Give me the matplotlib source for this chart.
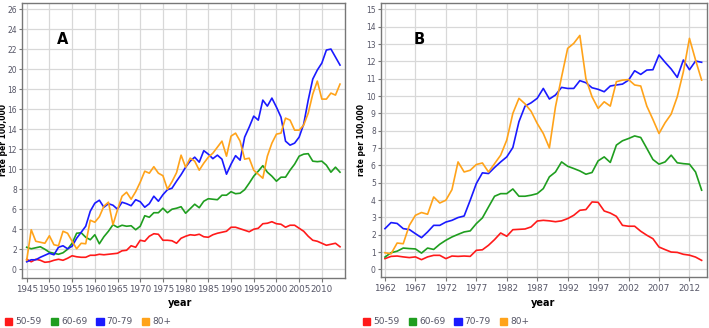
import numpy as np
import matplotlib
matplotlib.use('Agg')
import matplotlib.pyplot as plt
from matplotlib.patches import Patch

# panel A: 1945-2014
years_a = list(range(1945, 2015))
a_50 = [1.0, 0.75, 1.0, 0.9, 0.7, 0.75, 0.9, 1.0, 0.9, 1.1,
        1.35, 1.25, 1.2, 1.2, 1.4, 1.4, 1.5, 1.45, 1.5, 1.55,
        1.6, 1.85, 1.9, 2.35, 2.2, 2.9, 2.8, 3.3, 3.55, 3.5,
        2.9, 2.9, 2.85, 2.6, 3.1, 3.3, 3.45, 3.4, 3.5, 3.25,
        3.2, 3.45, 3.6, 3.7, 3.8, 4.2, 4.2, 4.05, 3.9, 3.75,
        4.0, 4.1, 4.55, 4.6, 4.75, 4.55, 4.5, 4.2, 4.4, 4.4,
        4.1, 3.8, 3.3, 2.9, 2.8, 2.6, 2.4, 2.5, 2.6, 2.25]
a_60 = [2.2, 2.05, 2.15, 2.25, 2.0, 1.7, 1.6, 1.5, 1.65, 2.0,
        2.6, 3.6, 3.65, 3.2, 2.95, 3.45, 2.55, 3.25, 3.8, 4.45,
        4.2, 4.4, 4.3, 4.35, 3.95, 4.3, 5.35, 5.2, 5.65, 5.65,
        6.1, 5.65, 6.0, 6.1, 6.25, 5.6, 6.05, 6.5, 6.15, 6.8,
        7.05, 7.0, 6.95, 7.4, 7.4, 7.75, 7.55, 7.6, 7.95, 8.6,
        9.3, 9.8, 10.35, 9.7, 9.3, 8.8, 9.2, 9.2, 9.9, 10.5,
        11.3, 11.5, 11.55, 10.8, 10.75, 10.8, 10.4, 9.7, 10.2, 9.7]
a_70 = [0.75, 0.95, 0.95, 1.2, 1.4, 1.6, 1.45, 2.2, 2.35, 2.05,
        2.3, 3.1, 3.7, 4.3, 5.8, 6.6, 6.9, 6.2, 6.55, 6.4,
        6.0, 6.7, 6.55, 6.35, 6.95, 6.75, 6.2, 6.55, 7.3, 6.8,
        7.45, 7.95, 8.1, 8.8, 9.45, 10.2, 10.8, 11.2, 10.7, 11.85,
        11.5, 11.05, 11.4, 11.0, 9.5, 10.5, 11.35, 10.9, 13.2, 14.2,
        15.3, 14.9, 16.9, 16.3, 17.1, 16.2, 15.2, 12.8, 12.4, 12.6,
        13.2, 14.5, 16.9, 19.0, 19.9, 20.6, 21.9, 22.0, 21.2, 20.4]
a_80 = [0.9, 3.95, 2.8, 2.7, 2.6, 3.35, 2.45, 2.35, 3.8, 3.6,
        2.8, 2.05, 2.6, 2.55, 4.9, 4.7, 5.25, 6.3, 6.7, 4.45,
        5.95, 7.3, 7.7, 7.0, 7.75, 8.7, 9.8, 9.6, 10.25, 9.6,
        9.35, 8.0, 8.75, 9.65, 11.4, 10.2, 11.1, 10.8, 9.9, 10.6,
        11.2, 11.6, 12.2, 12.8, 11.3, 13.3, 13.6, 12.8, 11.0, 11.1,
        9.9, 9.5, 9.1, 11.3, 12.6, 13.5, 13.6, 15.1, 14.9, 13.9,
        13.9, 14.4, 15.6, 17.5, 18.8, 17.0, 17.0, 17.6, 17.4, 18.5]

# panel B: 1962-2014
years_b = list(range(1962, 2015))
b_50 = [0.62, 0.75, 0.77, 0.72, 0.68, 0.72, 0.56, 0.72, 0.81, 0.81,
        0.62, 0.77, 0.75, 0.77, 0.75, 1.1, 1.13, 1.39, 1.72, 2.1,
        1.91, 2.29, 2.31, 2.33, 2.45, 2.79, 2.83, 2.8, 2.75, 2.8,
        2.93, 3.12, 3.41, 3.45, 3.89, 3.87, 3.37, 3.25, 3.06, 2.54,
        2.49, 2.49, 2.2, 1.97, 1.77, 1.29, 1.14, 1.0, 0.98, 0.87,
        0.82, 0.71, 0.52]
b_60 = [0.71, 0.96, 1.05, 1.23, 1.2, 1.18, 0.94, 1.23, 1.15, 1.45,
        1.68, 1.87, 2.02, 2.16, 2.22, 2.64, 2.97, 3.6, 4.22, 4.37,
        4.37, 4.64, 4.22, 4.22, 4.28, 4.37, 4.66, 5.34, 5.62, 6.2,
        5.95, 5.82, 5.68, 5.49, 5.59, 6.26, 6.49, 6.17, 7.17, 7.42,
        7.55, 7.7, 7.61, 6.98, 6.34, 6.07, 6.2, 6.59, 6.15, 6.1,
        6.07, 5.62, 4.57]
b_70 = [2.35, 2.7, 2.65, 2.35, 2.3, 2.06, 1.83, 2.16, 2.54, 2.54,
        2.73, 2.83, 2.99, 3.08, 3.99, 4.95, 5.57, 5.53, 5.88, 6.2,
        6.49, 7.03, 8.52, 9.42, 9.61, 9.87, 10.44, 9.83, 10.06, 10.5,
        10.44, 10.44, 10.89, 10.77, 10.48, 10.39, 10.25, 10.58, 10.64, 10.69,
        10.92, 11.46, 11.25, 11.5, 11.52, 12.37, 11.95, 11.56, 11.08, 12.08,
        11.52, 12.02, 11.95]
b_80 = [0.96, 0.9, 1.52, 1.48, 2.54, 3.12, 3.28, 3.18, 4.18, 3.83,
        3.99, 4.6, 6.2, 5.62, 5.72, 6.05, 6.14, 5.62, 6.1, 6.59,
        7.46, 9.0, 9.87, 9.55, 9.12, 8.42, 7.84, 7.01, 9.38, 11.1,
        12.75, 13.04, 13.5, 11.0, 9.96, 9.29, 9.67, 9.42, 10.83, 10.92,
        10.95, 10.64, 10.58, 9.42, 8.65, 7.84, 8.46, 8.96, 9.96, 11.4,
        13.33, 12.08, 10.92]

labels = ['50-59', '60-69', '70-79', '80+']
colors = ['#ff1a1a', '#1f9e1f', '#1a1aff', '#ffa31a']

narrow = ['Liberation Sans Narrow', 'DejaVu Sans']

W, H = 709, 328
fig = plt.figure(figsize=(W / 100, H / 100), dpi=100)


def box(l, t, r, b):
    return [l / W, (H - b) / H, (r - l) / W, (b - t) / H]


def panel(rect, years, series, xlim, ylim, xticks, yticks, letter, lx, ly, ylab_x, xlab_x, leg_x):
    ax = fig.add_axes(rect)
    for s, c in zip(series, colors):
        ax.plot(years, s, color=c, lw=1.2)
    ax.set_xlim(*xlim)
    ax.set_ylim(*ylim)
    ax.set_xticks(xticks)
    ax.set_yticks(yticks)
    ax.grid(True, color='#d8d8d8', lw=0.9)
    ax.set_axisbelow(True)
    for sp in ax.spines.values():
        sp.set_color('#777777')
        sp.set_linewidth(1.0)
    ax.tick_params(axis='x', length=3, width=0.8, color='#777777', labelsize=6.3,
                   labelcolor='#555566', pad=2)
    ax.tick_params(axis='y', length=2.5, width=0.8, color='#777777', labelsize=5.5,
                   labelcolor='#555566', pad=1.0)
    for t in ax.get_xticklabels() + ax.get_yticklabels():
        t.set_family(narrow)
    fig.text(lx / W, 1 - ly / H, letter, fontsize=10.5, fontweight='bold',
             ha='center', va='center')
    fig.text(ylab_x / W, 1 - 140 / H, 'rate per 100,000', rotation=90,
             fontsize=5.5, fontweight='bold', ha='center', va='center')
    fig.text(xlab_x / W, 1 - 303 / H, 'year', fontsize=7, fontweight='bold',
             ha='center', va='center')
    handles = [Patch(color=c) for c in colors]
    leg = fig.legend(handles, labels, loc='center left',
                     bbox_to_anchor=(leg_x / W, 1 - 322 / H), ncol=4,
                     frameon=False, handlelength=0.8,
                     handleheight=0.8, handletextpad=0.35, columnspacing=1.0,
                     borderaxespad=0, borderpad=0, prop={'family': narrow, 'size': 6.5})
    for t in leg.get_texts():
        t.set_color('#555566')
    return ax


panel(box(21.7, 3, 345, 278), years_a, [a_50, a_60, a_70, a_80],
      (1943.9, 2015.1), (-0.87, 26.6), list(range(1945, 2011, 5)),
      list(range(0, 27, 2)), 'A', 63, 40, 4, 180, 5)

panel(box(380.7, 3, 706.5, 277), years_b, [b_50, b_60, b_70, b_80],
      (1961.3, 2014.8), (-0.44, 15.37), list(range(1962, 2013, 5)),
      list(range(0, 16)), 'B', 419, 39, 362, 543, 363)

fig.savefig('out.png', dpi=100)
